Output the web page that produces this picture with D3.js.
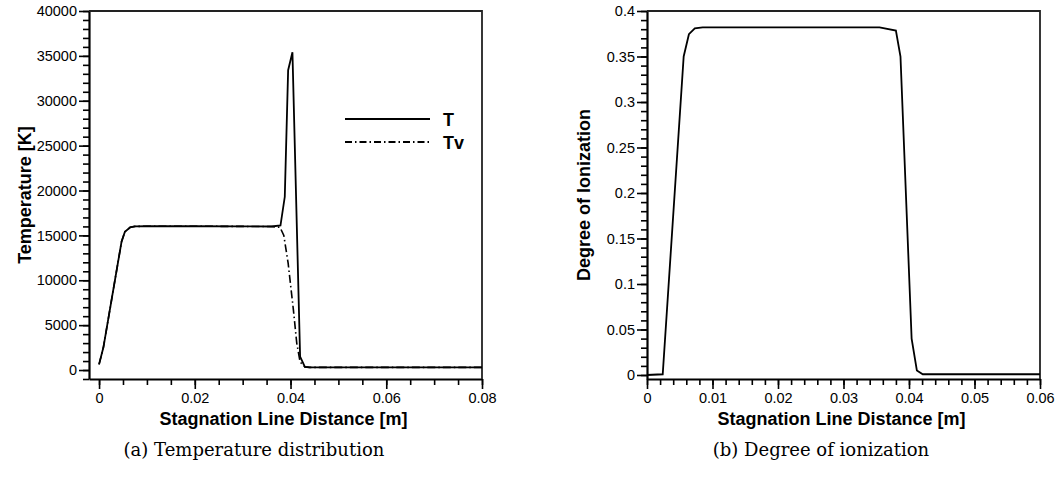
<!DOCTYPE html>
<html>
<head>
<meta charset="utf-8">
<script src="https://cdn.jsdelivr.net/npm/d3@7"></script>
<style>
  body { margin: 0; background: #fff; }
  .tick text { font-family: "Liberation Sans", Arial, sans-serif; font-size: 14.5px; fill: #000; }
  .title { font-family: "Liberation Sans", Arial, sans-serif; font-size: 18px; font-weight: bold; }
  .caption { font-family: "DejaVu Serif", "Liberation Serif", serif; font-size: 18px; }
</style>
</head>
<body>
<div id="chart"></div>
<script>
// (a) temperature along stagnation line
var distT = [0, 0.0009, 0.0047, 0.0054, 0.0065, 0.0075, 0.010, 0.020, 0.030, 0.036, 0.0379, 0.0388, 0.0395, 0.0404, 0.0420, 0.0430, 0.0440, 0.080];
var tempT = [630, 2500, 14300, 15400, 15900, 16000, 16020, 16020, 16000, 15990, 16100, 19300, 33400, 35400, 1500, 350, 300, 300];

var distTv = [0, 0.0009, 0.0047, 0.0054, 0.0065, 0.0075, 0.010, 0.020, 0.030, 0.036, 0.0378, 0.0386, 0.0395, 0.0406, 0.0413, 0.0420, 0.0430, 0.0440, 0.080];
var tempTv = [630, 2500, 14300, 15400, 15900, 16000, 16020, 16020, 16000, 15990, 15900, 15000, 11900, 6700, 3000, 900, 350, 300, 300];

// (b) degree of ionization
var distIon = [0, 0.0024, 0.0056, 0.0064, 0.0073, 0.0085, 0.020, 0.0355, 0.0380, 0.0387, 0.0404, 0.0412, 0.0421, 0.060];
var ionization = [0, 0.0008, 0.350, 0.3745, 0.381, 0.382, 0.382, 0.382, 0.3785, 0.350, 0.040, 0.005, 0.0008, 0.0008];

var xTicksA = [0, 0.02, 0.04, 0.06, 0.08];
var yTicksA = [0, 5000, 10000, 15000, 20000, 25000, 30000, 35000, 40000];
var xTicksB = [0, 0.01, 0.02, 0.03, 0.04, 0.05, 0.06];
var yTicksB = [0, 0.05, 0.1, 0.15, 0.2, 0.25, 0.3, 0.35, 0.4];

var legendNames = ["T", "Tv"];

var svg = d3.select("#chart").append("svg")
  .attr("width", 1060)
  .attr("height", 478);

// draws one framed panel with major + minor ticks
function panel(opt) {
  var g = svg.append("g");
  var x = d3.scaleLinear().domain(opt.xDomain).range([opt.left, opt.right]);
  var y = d3.scaleLinear().domain(opt.yDomain).range([opt.bottom, opt.top]);

  // minor ticks
  g.append("g")
    .attr("transform", "translate(0," + opt.bottom + ")")
    .call(d3.axisBottom(x).tickValues(opt.xMinor).tickSize(6).tickFormat(""))
    .call(function(a) { a.select(".domain").remove(); });
  g.append("g")
    .attr("transform", "translate(" + opt.left + ",0)")
    .call(d3.axisLeft(y).tickValues(opt.yMinor).tickSize(6).tickFormat(""))
    .call(function(a) { a.select(".domain").remove(); });

  // major ticks
  g.append("g")
    .attr("transform", "translate(0," + opt.bottom + ")")
    .call(d3.axisBottom(x).tickValues(opt.xTicks).tickSize(10).tickSizeOuter(0).tickPadding(4)
      .tickFormat(function(d) { return String(d); }));
  g.append("g")
    .attr("transform", "translate(" + opt.left + ",0)")
    .call(d3.axisLeft(y).tickValues(opt.yTicks).tickSize(10).tickSizeOuter(0).tickPadding(2)
      .tickFormat(function(d) { return String(d); }));

  g.selectAll(".tick line").attr("stroke", "#000").attr("stroke-width", 1.6);
  g.selectAll(".domain").attr("stroke", "#000").attr("stroke-width", 2.2);

  // frame top and right
  g.append("path")
    .attr("d", "M" + opt.left + "," + opt.top + "H" + opt.right + "V" + opt.bottom)
    .attr("fill", "none")
    .attr("stroke", "#222")
    .attr("stroke-width", 1.8);

  // axis titles
  g.append("text")
    .attr("class", "title")
    .attr("text-anchor", "middle")
    .attr("x", (opt.left + opt.right) / 2 - 2)
    .attr("y", opt.bottom + 46)
    .text(opt.xLabel);
  g.append("text")
    .attr("class", "title")
    .attr("text-anchor", "middle")
    .attr("transform", "rotate(-90)")
    .attr("x", -(opt.top + opt.bottom) / 2)
    .attr("y", opt.yTitleX)
    .text(opt.yLabel);

  g.append("text")
    .attr("class", "caption")
    .attr("text-anchor", "middle")
    .attr("x", opt.captionX)
    .attr("y", 456)
    .text(opt.caption);

  return { g: g, x: x, y: y };
}

var a = panel({
  left: 89, right: 482, top: 11, bottom: 379,
  xDomain: [-0.0021, 0.08], yDomain: [-1000, 40000],
  xTicks: xTicksA, yTicks: yTicksA,
  xMinor: d3.range(0, 0.0801, 0.005), yMinor: d3.range(-1000, 40001, 1000),
  xLabel: "Stagnation Line Distance [m]", yLabel: "Temperature [K]",
  yTitleX: 31, captionX: 254,
  caption: "(a) Temperature distribution"
});

var b = panel({
  left: 647, right: 1040, top: 11, bottom: 379,
  xDomain: [0, 0.06], yDomain: [-0.0044, 0.4],
  xTicks: xTicksB, yTicks: yTicksB,
  xMinor: d3.range(0, 0.0601, 0.002), yMinor: d3.range(0, 0.401, 0.01),
  xLabel: "Stagnation Line Distance [m]", yLabel: "Degree of Ionization",
  yTitleX: 590, captionX: 821,
  caption: "(b) Degree of ionization"
});

// curves
var lineA = d3.line().x(function(d) { return a.x(d[0]); }).y(function(d) { return a.y(d[1]); });
var lineB = d3.line().x(function(d) { return b.x(d[0]); }).y(function(d) { return b.y(d[1]); });

a.g.append("path")
  .datum(d3.zip(distTv, tempTv))
  .attr("d", lineA)
  .attr("fill", "none")
  .attr("stroke", "#000")
  .attr("stroke-width", 1.6)
  .attr("stroke-dasharray", "8,3,1.5,3");

a.g.append("path")
  .datum(d3.zip(distT, tempT))
  .attr("d", lineA)
  .attr("fill", "none")
  .attr("stroke", "#000")
  .attr("stroke-width", 1.8);

b.g.append("path")
  .datum(d3.zip(distIon, ionization))
  .attr("d", lineB)
  .attr("fill", "none")
  .attr("stroke", "#000")
  .attr("stroke-width", 1.8);

// legend
var leg = a.g.append("g").attr("transform", "translate(345,119)");
leg.selectAll("line")
  .data(legendNames)
  .enter().append("line")
    .attr("x1", 0).attr("x2", 85)
    .attr("y1", function(d, i) { return i * 23; })
    .attr("y2", function(d, i) { return i * 23; })
    .attr("stroke", "#000")
    .attr("stroke-width", 1.8)
    .attr("stroke-dasharray", function(d, i) { return i ? "7,3,1.5,3" : null; });
leg.selectAll("text")
  .data(legendNames)
  .enter().append("text")
    .attr("class", "title")
    .attr("x", 98)
    .attr("y", function(d, i) { return i * 23 + 7; })
    .text(function(d) { return d; });
</script>
</body>
</html>
